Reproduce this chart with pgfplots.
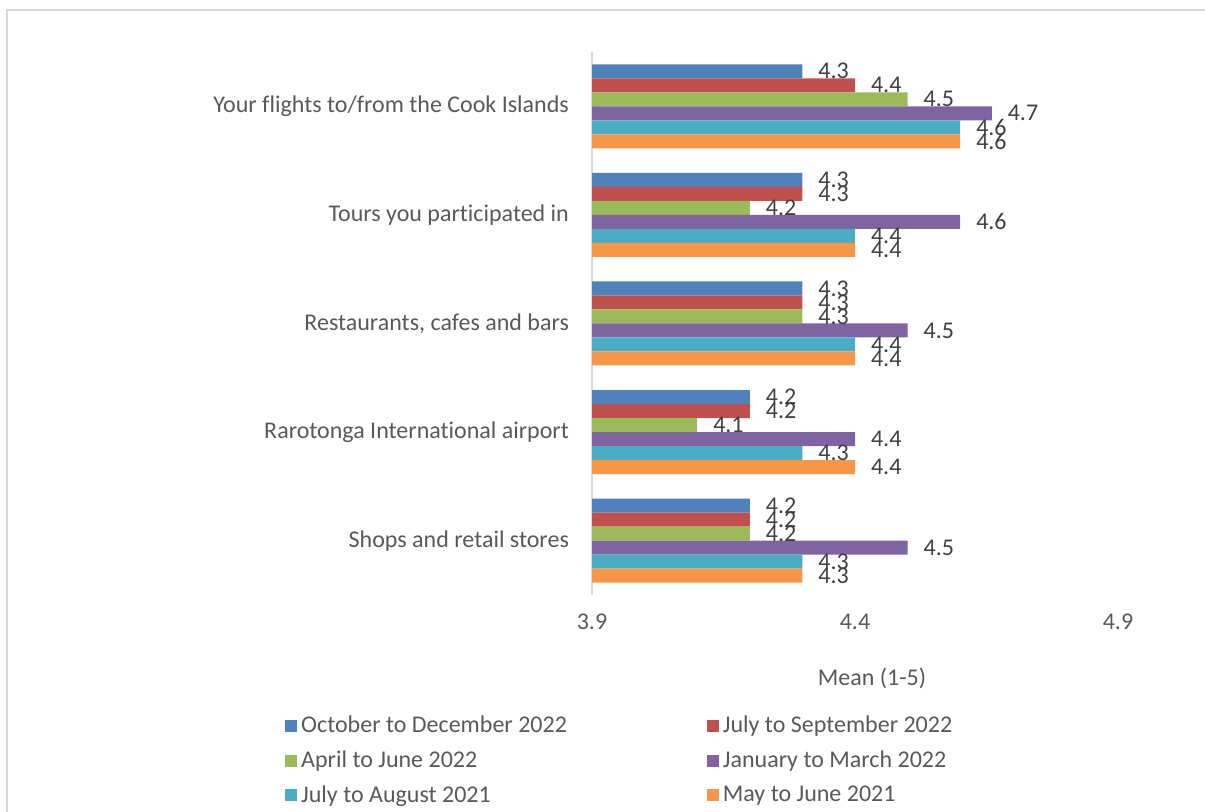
\documentclass[border=0pt]{standalone}
\usepackage{fontspec}
\setmainfont{Carlito}[Ligatures={NoCommon}]
\usepackage{pgfplots}
\pgfplotsset{compat=1.18}
\definecolor{c1}{HTML}{4F81BD}
\definecolor{c2}{HTML}{C0504D}
\definecolor{c3}{HTML}{9BBB59}
\definecolor{c4}{HTML}{8064A2}
\definecolor{c5}{HTML}{4BACC6}
\definecolor{c6}{HTML}{F79646}
\definecolor{txt}{HTML}{595959}
\definecolor{lbl}{HTML}{404040}
\definecolor{frame}{HTML}{D9D9D9}
\begin{document}
\begin{tikzpicture}[x=1pt,y=1pt]
\useasboundingbox (0,0) rectangle (602.5,406);
\draw[frame, line width=1pt] (3.5,0) -- (3.5,401) -- (602.5,401);
\node[font=\fontsize{12}{14}\selectfont, text=txt] at (436,67) {Mean (1-5)};
\begin{axis}[
  at={(296pt,108.5pt)}, anchor=south west,
  scale only axis, width=263pt, height=271.5pt,
  xbar, bar width=7pt,
  xmin=3.9, xmax=4.9, xtick={3.9,4.4,4.9},
  ymin=-0.5, ymax=4.5, ytick={0,1,2,3,4}, y dir=reverse,
  yticklabels={Your flights to/from the Cook Islands, Tours you participated in, {Restaurants, cafes and bars}, Rarotonga International airport, Shops and retail stores},
  axis lines*=left,
  x axis line style={draw=none},
  y axis line style={draw=frame, line width=1pt},
  major tick length=0pt,
  tick label style={font=\fontsize{12}{14}\selectfont, text=txt},
  yticklabel style={xshift=-8pt},
  xticklabel style={yshift=-6pt},
  /pgf/number format/.cd, fixed, fixed zerofill, precision=1, assume math mode=true,
  /pgfplots/.cd,
  nodes near coords, nodes near coords align={horizontal}, point meta=x,
  every node near coord/.append style={font=\fontsize{12}{14}\selectfont, text=lbl, xshift=4.5pt},
  legend columns=2,
  legend cell align=left,
  legend image code/.code={\path[#1,draw=none] (0pt,-3pt) rectangle (6pt,3pt);},
  legend style={draw=none, fill=none, at={(-0.584,-0.215)}, anchor=north west, inner sep=0pt,
    font=\fontsize{12}{14}\selectfont, text=txt, row sep=3.5pt,
    /tikz/every even column/.append style={column sep=68pt}},
]
\addplot[fill=c1, draw=none, bar shift=17.5pt] coordinates {(4.3,0) (4.3,1) (4.3,2) (4.2,3) (4.2,4)};
\addlegendentry{October to December 2022}
\addplot[fill=c2, draw=none, bar shift=10.5pt] coordinates {(4.4,0) (4.3,1) (4.3,2) (4.2,3) (4.2,4)};
\addlegendentry{July to September 2022}
\addplot[fill=c3, draw=none, bar shift=3.5pt] coordinates {(4.5,0) (4.2,1) (4.3,2) (4.1,3) (4.2,4)};
\addlegendentry{April to June 2022}
\addplot[fill=c4, draw=none, bar shift=-3.5pt] coordinates {(4.66,0) (4.6,1) (4.5,2) (4.4,3) (4.5,4)};
\addlegendentry{January to March 2022}
\addplot[fill=c5, draw=none, bar shift=-10.5pt] coordinates {(4.6,0) (4.4,1) (4.4,2) (4.3,3) (4.3,4)};
\addlegendentry{July to August 2021}
\addplot[fill=c6, draw=none, bar shift=-17.5pt] coordinates {(4.6,0) (4.4,1) (4.4,2) (4.4,3) (4.3,4)};
\addlegendentry{May to June 2021}
\end{axis}
\end{tikzpicture}
\end{document}
